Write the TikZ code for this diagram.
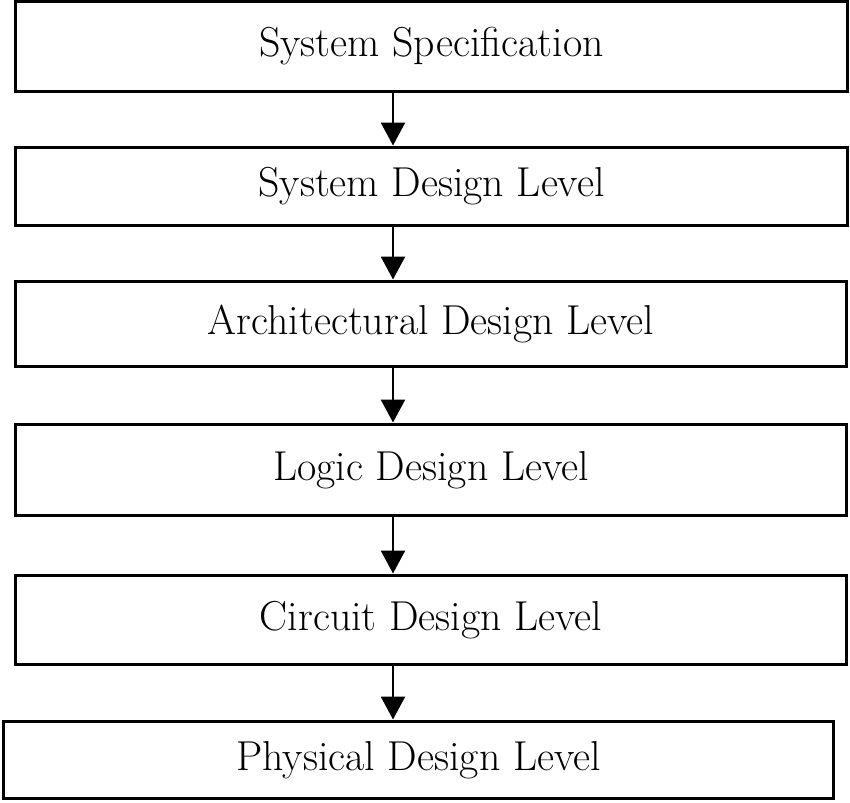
\documentclass[tikz,border=0pt]{standalone}
\usepackage{tikz}
\usetikzlibrary{arrows.meta}

\begin{document}
\begin{tikzpicture}[x=0.02cm, y=-0.02cm,
    level/.style={draw, line width=0.06cm, inner sep=0pt, font=\fontsize{23.8}{28}\selectfont},
    flow/.style={-{Triangle[width=0.48cm,length=0.46cm]}, line width=0.05cm}]

  \useasboundingbox (0,0) rectangle (850,803);

  % boxes, top to bottom
  \node[level, minimum width=16.66cm, minimum height=1.82cm] (spec) at (431.5,46.5) {System Specification};
  \node[level, minimum width=16.66cm, minimum height=1.58cm] (sys) at (431.5,186.5) {System Design Level};
  \node[level, minimum width=16.64cm, minimum height=1.72cm] (arch) at (431,324) {Architectural Design Level};
  \node[level, minimum width=16.64cm, minimum height=1.84cm] (logic) at (431,470) {Logic Design Level};
  \node[level, minimum width=16.64cm, minimum height=1.80cm] (circ) at (431,620) {Circuit Design Level};
  \node[level, minimum width=16.62cm, minimum height=1.56cm] (phys) at (418.5,760) {Physical Design Level};

  % arrows
  \coordinate (ax) at (393,0);
  \draw[flow] (spec.south -| ax) -- (sys.north -| ax);
  \draw[flow] (sys.south -| ax) -- (arch.north -| ax);
  \draw[flow] (arch.south -| ax) -- (logic.north -| ax);
  \draw[flow] (logic.south -| ax) -- (circ.north -| ax);
  \draw[flow] (circ.south -| ax) -- (phys.north -| ax);

\end{tikzpicture}
\end{document}
